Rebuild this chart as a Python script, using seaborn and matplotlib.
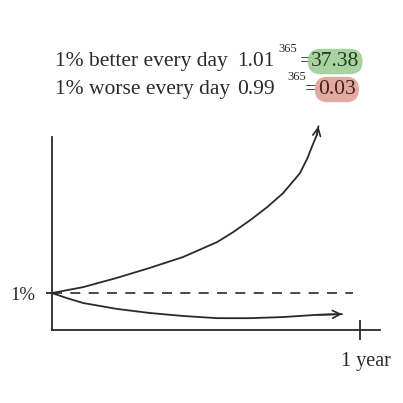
import numpy as np
import pandas as pd
import seaborn as sns
import matplotlib.pyplot as plt

# --- Data ---
better_days = [0, 37, 77, 116, 155, 196, 215, 235, 255, 274, 294, 303, 309, 314, 316]
better_vals = [1.0, 1.16, 1.41, 1.68, 1.97, 2.38, 2.65, 2.97, 3.32, 3.70, 4.24,
               4.65, 5.00, 5.27, 5.51]

worse_days = [0, 18, 37, 77, 116, 155, 196, 235, 274, 314, 344]
worse_vals = [1.0, 0.86, 0.73, 0.57, 0.46, 0.38, 0.32, 0.32, 0.35, 0.41, 0.43]

base_days = [0, 357]
base_vals = [1.0, 1.0]

x_ticks = [365]
x_tick_labels = ["1 year"]
y_ticks = [1.0]
y_tick_labels = ["1%"]

df_better = pd.DataFrame({"day": better_days, "value": better_vals})
df_worse = pd.DataFrame({"day": worse_days, "value": worse_vals})
df_base = pd.DataFrame({"day": base_days, "value": base_vals})

# --- Graph ---
sns.set_theme(style="white")
plt.rcParams["font.family"] = ["Liberation Serif", "DejaVu Serif"]

W = 403.0
fig = plt.figure(figsize=(4.03, 4.03), dpi=100)
ax = fig.add_axes([52 / W, (W - 330) / W, 328 / W, 193 / W])

ink = "#2a2a2a"
sns.lineplot(data=df_better, x="day", y="value", ax=ax, color=ink, lw=1.3,
             sort=False, estimator=None)
sns.lineplot(data=df_worse, x="day", y="value", ax=ax, color=ink, lw=1.3,
             sort=False, estimator=None)
sns.lineplot(data=df_base, x="day", y="value", ax=ax, color=ink, lw=1.2,
             sort=False, estimator=None)
ax.lines[-1].set_dashes([6, 5])
for line in ax.lines:
    line.set_clip_on(False)
    line.set_solid_joinstyle("round")

# arrow heads
for d in [df_better, df_worse]:
    ax.annotate("", xy=(d["day"].iloc[-1], d["value"].iloc[-1]),
                xytext=(d["day"].iloc[-2], d["value"].iloc[-2]),
                arrowprops=dict(arrowstyle="->", color=ink, lw=1.2,
                                mutation_scale=14, shrinkA=0, shrinkB=0),
                annotation_clip=False)

ax.set_xlim(0, 389)
ax.set_ylim(0, 5.22)
sns.despine(ax=ax)
for s in ["left", "bottom"]:
    ax.spines[s].set_color(ink)
    ax.spines[s].set_linewidth(1.3)

ax.set_xticks(x_ticks)
ax.set_xticklabels([""])
ax.set_yticks(y_ticks)
ax.set_yticklabels(y_tick_labels, fontsize=13.5)
ax.tick_params(axis="x", direction="inout", length=15, width=1.3, color=ink,
               bottom=True)
ax.tick_params(axis="y", direction="inout", length=8, width=1.3, color=ink,
               left=True, pad=8, labelcolor=ink)
ax.text(x_ticks[0] + 7, -0.85, x_tick_labels[0], ha="center", va="center",
        fontsize=14.5, color=ink)
ax.set_xlabel("")
ax.set_ylabel("")

# --- Heading ---
def px(x, y):
    return x / W, 1 - y / W

fs = 15.5
fig.text(*px(55, 66), "1% better every day", fontsize=fs, color=ink, va="baseline")
fig.text(*px(237, 66), "1.01", fontsize=fs, color=ink, va="baseline")
fig.text(*px(278, 52), "365", fontsize=9, color=ink, va="baseline")
fig.text(*px(300, 66), "=", fontsize=fs, color=ink, va="baseline")
fig.text(*px(311, 66), "37.38", fontsize=fs, color="#253d22", va="baseline",
         bbox=dict(boxstyle="round,pad=0.15,rounding_size=0.6", fc="#9fcd95",
                   ec="none", alpha=0.9))

fig.text(*px(55, 94), "1% worse every day", fontsize=fs, color=ink, va="baseline")
fig.text(*px(237, 94), "0.99", fontsize=fs, color=ink, va="baseline")
fig.text(*px(287, 80), "365", fontsize=9, color=ink, va="baseline")
fig.text(*px(305, 94), "=", fontsize=fs, color=ink, va="baseline")
fig.text(*px(318, 94), "0.03", fontsize=fs, color="#4a1c1a", va="baseline",
         bbox=dict(boxstyle="round,pad=0.15,rounding_size=0.6", fc="#dfa298",
                   ec="none", alpha=0.9))

plt.savefig("out.png", dpi=100)
